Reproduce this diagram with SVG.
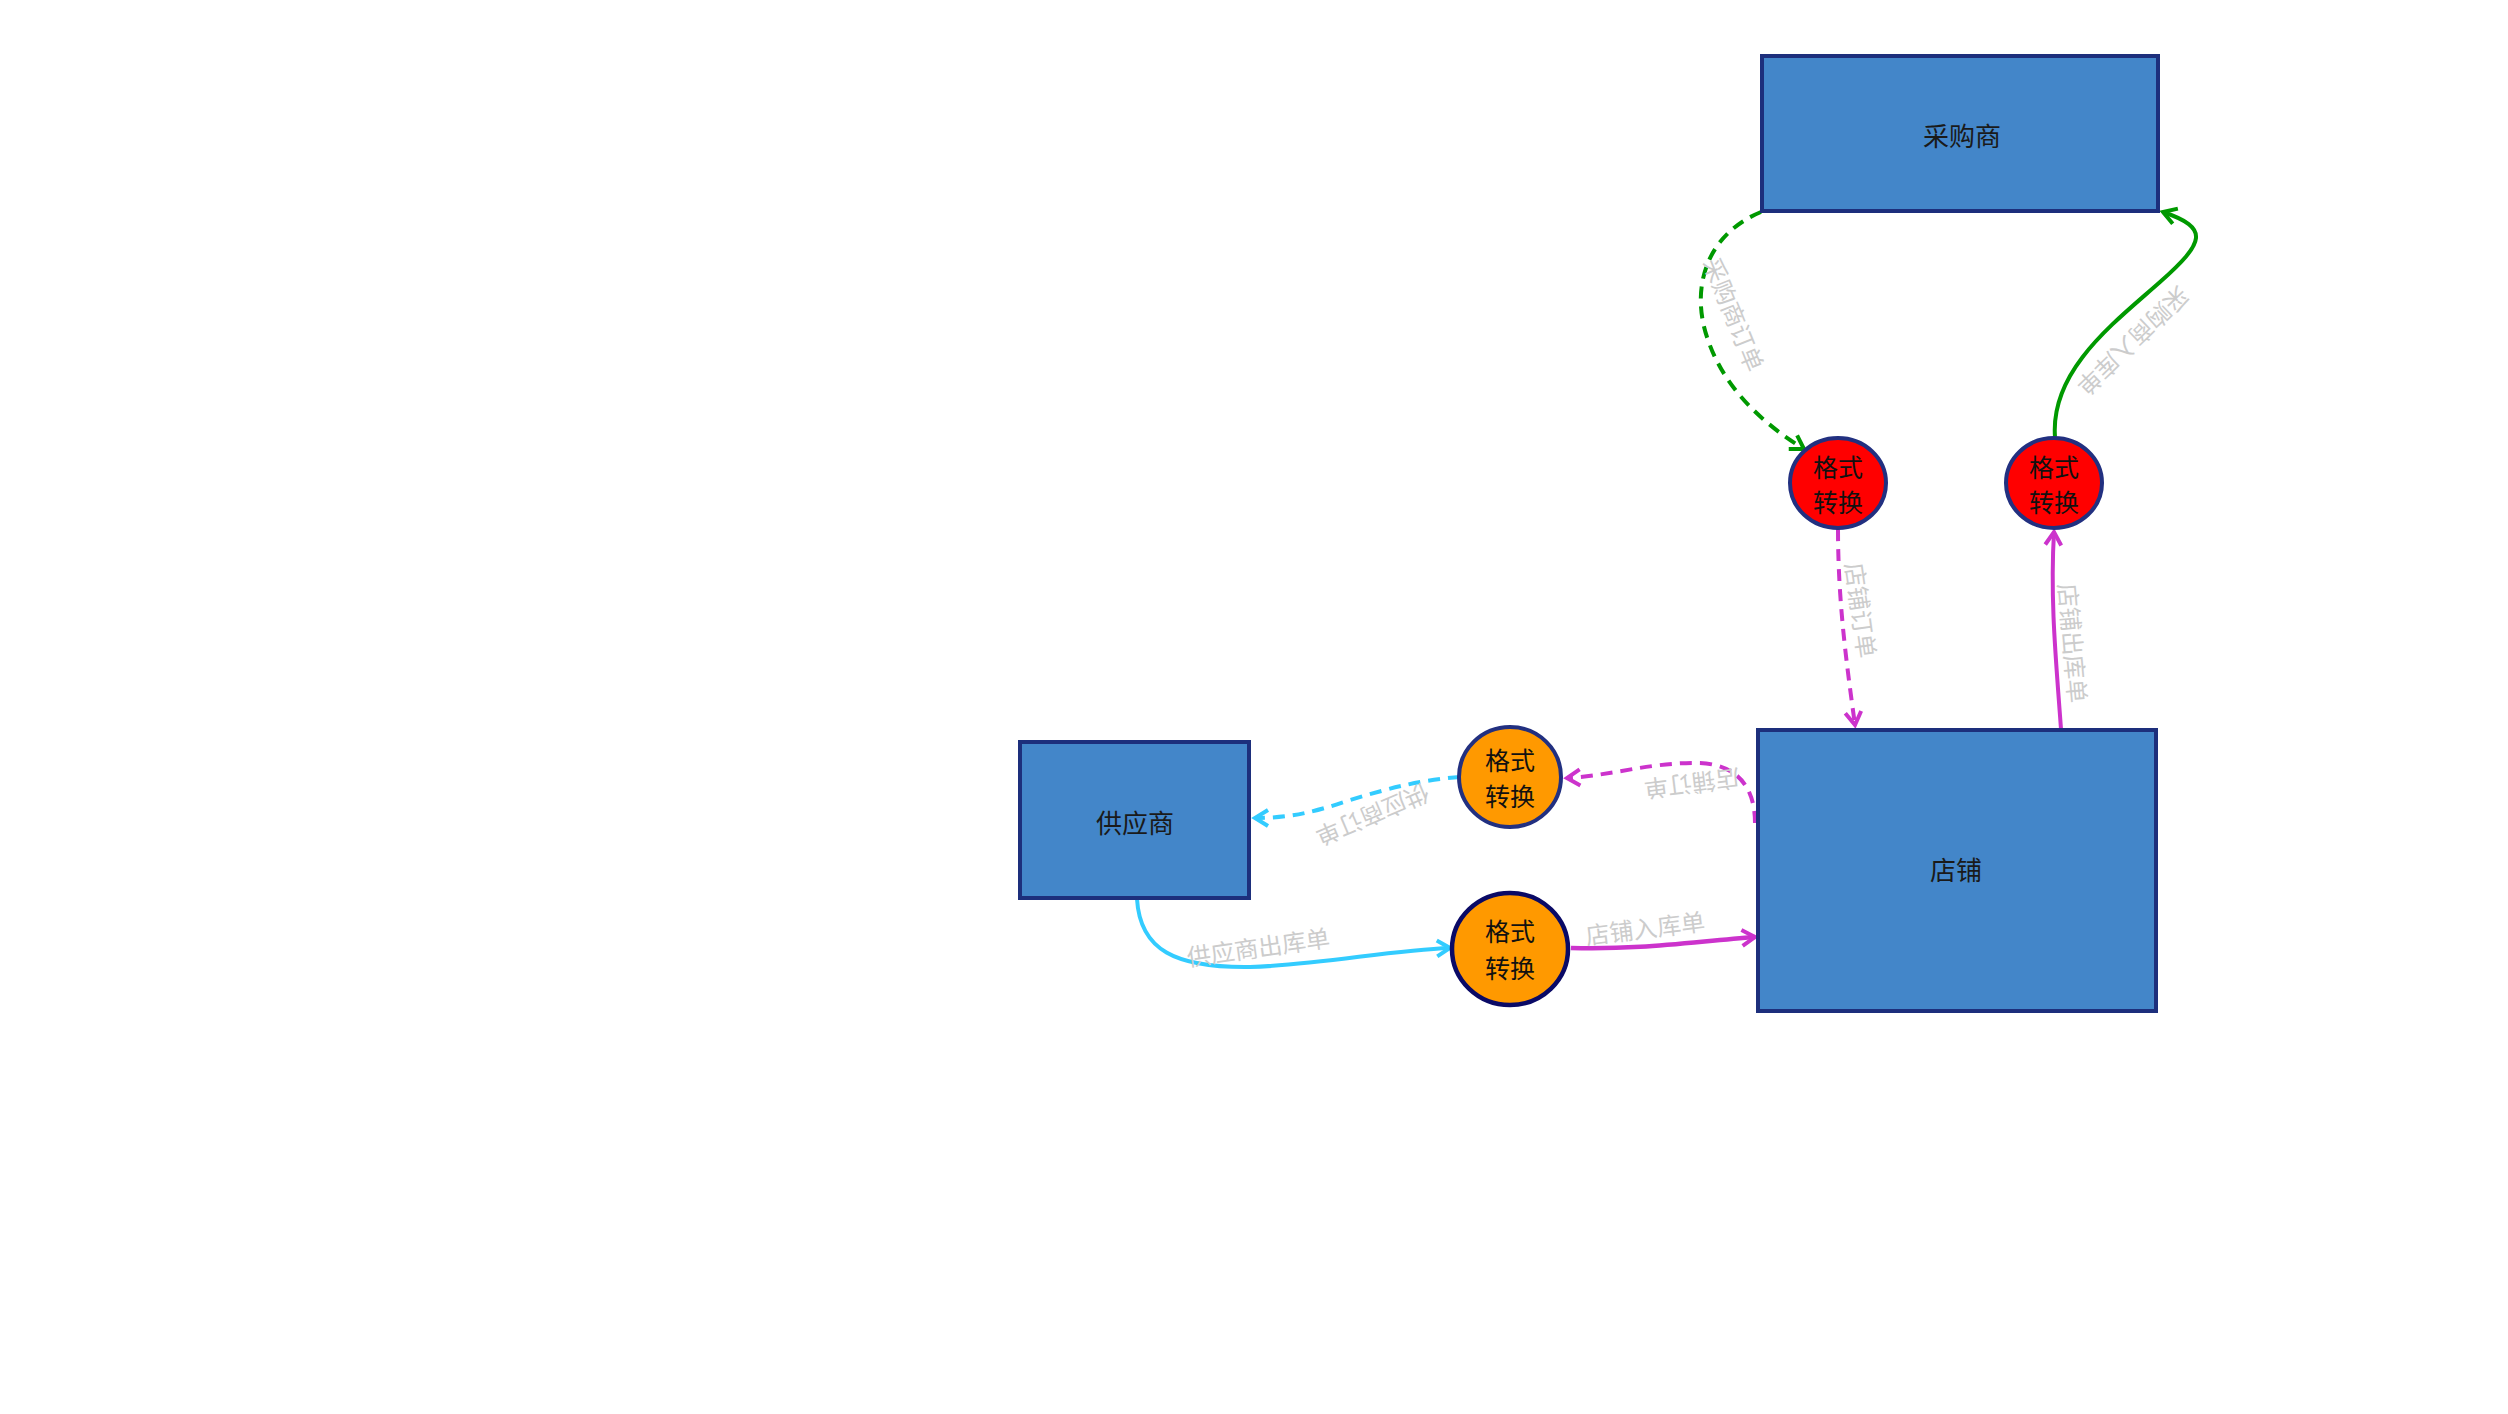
<svg xmlns="http://www.w3.org/2000/svg" width="2508" height="1414" viewBox="0 0 2508 1414">
<style>
.box{fill:#4386c9;stroke:#1d2f7c;stroke-width:4}
.red{fill:#ff0000;stroke:#223080;stroke-width:4}
.org{fill:#ff9900;stroke:#223080;stroke-width:4}
.org2{fill:#ff9900;stroke:#0a0a66;stroke-width:4.5}
.nt{font-family:"Noto Sans CJK SC","Noto Sans CJK JP",sans-serif;font-size:26px;fill:#1a1a1a;text-anchor:middle;dominant-baseline:central}
.ct{font-family:"Noto Sans CJK SC","Noto Sans CJK JP",sans-serif;font-size:25px;fill:#111;text-anchor:middle;dominant-baseline:central}
.lb{font-family:"Noto Sans CJK SC","Noto Sans CJK JP",sans-serif;font-size:24px;fill:#cccccc;text-anchor:middle;dominant-baseline:central}
.c{fill:none;stroke-width:4}
.dash{stroke-dasharray:12 8}
.g{stroke:#009900}
.m{stroke:#cc33cc}
.cy{stroke:#33ccff}
</style>
<defs>
<marker id="ag" markerUnits="userSpaceOnUse" viewBox="-16 -11 18 22" refX="0" refY="0" markerWidth="18" markerHeight="22" orient="auto" overflow="visible"><path d="M-13,-8 L0,0 L-13,8" fill="none" stroke="#009900" stroke-width="4"/></marker>
<marker id="am" markerUnits="userSpaceOnUse" viewBox="-16 -11 18 22" refX="0" refY="0" markerWidth="18" markerHeight="22" orient="auto" overflow="visible"><path d="M-13,-8 L0,0 L-13,8" fill="none" stroke="#cc33cc" stroke-width="4"/></marker>
<marker id="ac" markerUnits="userSpaceOnUse" viewBox="-16 -11 18 22" refX="0" refY="0" markerWidth="18" markerHeight="22" orient="auto" overflow="visible"><path d="M-13,-8 L0,0 L-13,8" fill="none" stroke="#33ccff" stroke-width="4"/></marker>
</defs>
<rect width="2508" height="1414" fill="#ffffff"/>
<g id="connectors">
<path class="c dash g" d="M1761,212 C1705,235 1690,290 1708,340 C1725,390 1765,425 1804,449" marker-end="url(#ag)"/>
<path class="c g" d="M2055,437 C2050,370 2115,322 2160,282 C2205,242 2210,228 2163,212" marker-end="url(#ag)"/>
<path class="c dash m" d="M1838,529 C1838,600 1846,660 1855,725" marker-end="url(#am)"/>
<path class="c m" d="M2061,729 C2056,660 2050,600 2054,532" marker-end="url(#am)"/>
<path class="c dash m" d="M1755,823 C1755,790 1740,765 1700,763 C1650,762 1610,776 1567,778" marker-end="url(#am)"/>
<path class="c dash cy" d="M1460,777 C1420,780 1390,788 1350,800 C1315,812 1290,818 1255,818" marker-end="url(#ac)"/>
<path class="c cy" d="M1137,899 C1140,950 1175,968 1250,967 C1320,965 1390,950 1450,948" marker-end="url(#ac)"/>
<path class="c m" style="stroke-width:4.5" d="M1571,948 C1640,950 1690,942 1755,937" marker-end="url(#am)"/>
<text class="lb" transform="translate(1735,314) rotate(68)">采购商订单</text>
<text class="lb" transform="translate(2134,342) rotate(136)">采购商入库单</text>
<text class="lb" transform="translate(1862,610) rotate(82)">店铺订单</text>
<text class="lb" transform="translate(2074,643) rotate(85)">店铺出库单</text>
<text class="lb" transform="translate(1692,785) rotate(173)">店铺订单</text>
<text class="lb" transform="translate(1373,816) rotate(157)">供应商订单</text>
<text class="lb" transform="translate(1258,946) rotate(-8)">供应商出库单</text>
<text class="lb" transform="translate(1645,927) rotate(-7)">店铺入库单</text>
</g>
<g id="buyer">
<rect class="box" x="1762" y="56" width="396" height="155"/>
<text class="nt" x="1962" y="134">采购商</text>
</g>
<g id="shop">
<rect class="box" x="1758" y="730" width="398" height="281"/>
<text class="nt" x="1956" y="868">店铺</text>
</g>
<g id="supplier">
<rect class="box" x="1020" y="742" width="229" height="156"/>
<text class="nt" x="1135" y="821">供应商</text>
</g>
<g id="conv-red-1">
<ellipse class="red" cx="1838" cy="483" rx="48" ry="45"/>
<text class="ct" x="1838" y="466">格式</text>
<text class="ct" x="1838" y="501">转换</text>
</g>
<g id="conv-red-2">
<ellipse class="red" cx="2054" cy="483" rx="48" ry="45"/>
<text class="ct" x="2054" y="466">格式</text>
<text class="ct" x="2054" y="501">转换</text>
</g>
<g id="conv-orange-1">
<ellipse class="org" cx="1510" cy="777" rx="51" ry="50"/>
<text class="ct" x="1510" y="759">格式</text>
<text class="ct" x="1510" y="795">转换</text>
</g>
<g id="conv-orange-2">
<ellipse class="org2" cx="1510" cy="949" rx="58" ry="56"/>
<text class="ct" x="1510" y="930">格式</text>
<text class="ct" x="1510" y="967">转换</text>
</g>
</svg>
